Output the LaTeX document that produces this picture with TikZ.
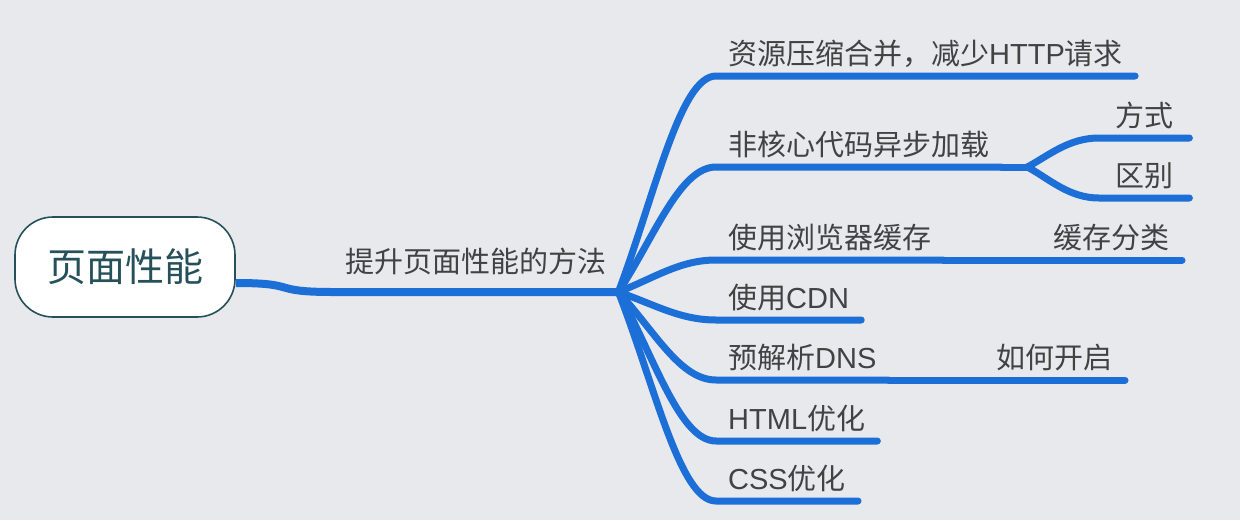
\documentclass[tikz,border=0pt]{standalone}
\usepackage{fontspec}
\setmainfont{Noto Sans CJK SC}
\newfontfamily\latinfont{Liberation Sans}
\newcommand{\lat}[1]{{\latinfont #1}}
\usetikzlibrary{positioning,backgrounds}
\definecolor{cbg}{RGB}{231,233,237}
\definecolor{cline}{RGB}{28,111,215}
\definecolor{ctext}{RGB}{66,66,66}
\definecolor{croot}{RGB}{38,80,90}

\begin{document}
\begin{tikzpicture}[
  x=1pt, y=-1pt,
  font=\fontsize{29}{32}\selectfont,
  root/.style={rectangle, draw=croot, line width=1.6pt, fill=white,
               rounded corners=38pt, minimum width=220pt, minimum height=100pt,
               text=croot, font=\fontsize{39}{42}\selectfont},
  topic/.style={text=ctext, inner xsep=12pt, inner ysep=8.5pt,
                text height=22pt, text depth=3pt, anchor=south west},
  subtopic/.style={topic, inner xsep=16pt},
  branch/.style={draw=cline, line width=7pt, line cap=round}
]

% ---------- page ----------
\useasboundingbox (0,0) rectangle (1240,520);

% ---------- central topic ----------
\node[root] (root) at (125,267) {页面性能};
\node[topic, inner ysep=16pt] (main) at (333,292) {提升页面性能的方法};
\coordinate (hub) at (main.south east);

\begin{scope}[on background layer]
  \fill[cbg] (0,0) rectangle (1240,520);
  \draw[branch, line width=8pt, line cap=butt] ([yshift=-16pt]root.east)
    .. controls +(65,0) and +(-65,0) .. (main.south west) -- (hub);
\end{scope}

% ---------- main branches ----------
\foreach \n/\y/\txt in {1/76/{资源压缩合并，减少\lat{HTTP}请求},
                        2/167/{非核心代码异步加载},
                        3/260/{使用浏览器缓存},
                        4/320/{使用\lat{CDN}},
                        5/380/{预解析\lat{DNS}},
                        6/441/{\lat{HTML}优化},
                        7/501/{\lat{CSS}优化}}
  \node[topic] (t\n) at (716,\y) {\txt};

\foreach \n/\y in {1/76,2/167,3/260,4/320,5/380,6/441,7/501}
  \draw[branch] (hub) .. controls (655,{292+0.45*(\y-292)}) and (680,\y)
    .. (t\n.south west) -- (t\n.south east);

% ---------- sub topics ----------
\node[subtopic] (s2a) at (1099,138) {方式};
\node[subtopic] (s2b) at (1099,198) {区别};
\node[topic, anchor=south east] (s3) at (1182,260) {缓存分类};
\node[topic, anchor=south east] (s5) at (1125,380) {如何开启};

\coordinate (fork) at ([xshift=26pt]t2.south east);
\draw[branch] (t2.south east) -- (fork);
\foreach \s/\d in {s2a/-12,s2b/12}
  \draw[branch] (fork) .. controls +(22,\d) and +(-30,0)
    .. (\s.south west) -- (\s.south east);

\draw[branch] (t3.south east) -- (s3.south east);
\draw[branch] (t5.south east) -- (s5.south east);

\end{tikzpicture}
\end{document}
